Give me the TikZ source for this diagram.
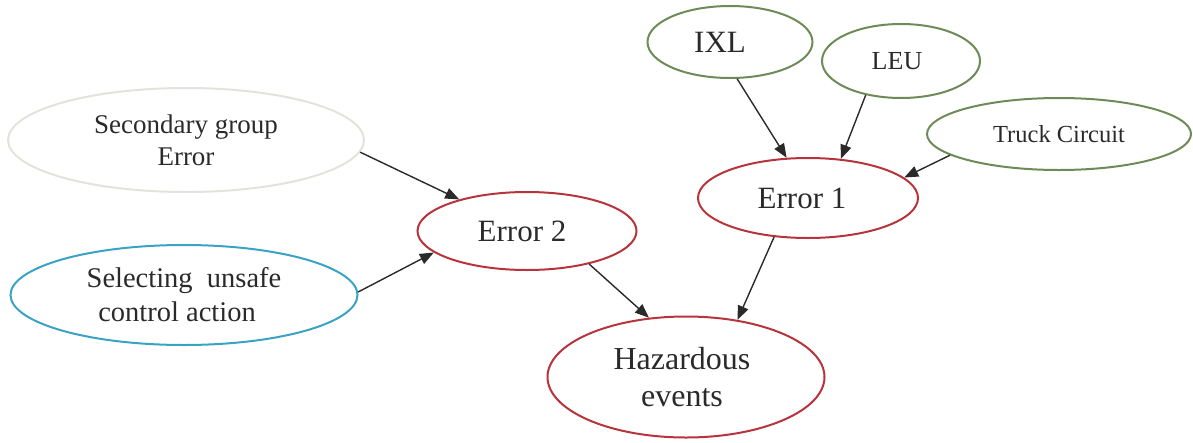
\documentclass[tikz,border=0pt]{standalone}
\usepackage{fontspec}
\setmainfont{Liberation Serif}
\usetikzlibrary{shapes.geometric,arrows.meta}

\definecolor{errred}{HTML}{B8343C}
\definecolor{srcgreen}{HTML}{6E8B57}
\definecolor{ctlblue}{HTML}{3AA3C4}
\definecolor{grpgray}{HTML}{E4E2DC}
\definecolor{inkgray}{HTML}{2A2A2A}

% move a label left inside its oval by #1 (the oval itself stays put)
\newcommand{\ovalnudge}[2]{\hspace*{-#1}#2}

\tikzset{
  oval/.style={ellipse, draw, line width=2pt, inner sep=0pt, align=center,
               text=inkgray},
  errnode/.style={oval, draw=errred},
  srcnode/.style={oval, draw=srcgreen},
  link/.style={line width=1.4pt, draw=inkgray,
               -{Triangle[length=14pt, width=11pt]}},
}

\begin{document}
\begin{tikzpicture}[x=1pt, y=-1pt]
  \useasboundingbox (0,0) rectangle (1193,442);

  % causes on the left
  \node[oval, draw=grpgray, minimum width=356pt, minimum height=104pt,
        font=\fontsize{27}{32}\selectfont] (grp) at (186,140)
        {Secondary group\\Error};
  \node[oval, draw=ctlblue, minimum width=347pt, minimum height=100pt,
        font=\fontsize{28.5}{34}\selectfont] (ctl) at (184,295)
        {Selecting\ \ unsafe\\\ovalnudge{14pt}{control action}};

  % technical sources on the top right
  \node[srcnode, minimum width=165pt, minimum height=72pt,
        font=\fontsize{31}{34}\selectfont] (ixl) at (730,42) {\ovalnudge{20pt}{IXL}};
  \node[srcnode, minimum width=158pt, minimum height=74pt,
        font=\fontsize{26}{30}\selectfont] (leu) at (901,61) {\ovalnudge{8pt}{LEU}};
  \node[srcnode, minimum width=264pt, minimum height=72pt,
        font=\fontsize{24.5}{28}\selectfont] (trk) at (1059,134) {Truck Circuit};

  % intermediate errors
  \node[errnode, minimum width=219pt, minimum height=78pt,
        font=\fontsize{31}{34}\selectfont] (e2) at (527,231) {\ovalnudge{10pt}{Error 2}};
  \node[errnode, minimum width=220pt, minimum height=80pt,
        font=\fontsize{31}{34}\selectfont] (e1) at (808,198) {\ovalnudge{12pt}{Error 1}};

  % top event
  \node[errnode, minimum width=277pt, minimum height=121pt,
        font=\fontsize{32}{37}\selectfont] (haz) at (686,377)
        {\ovalnudge{8pt}{Hazardous}\\\ovalnudge{8pt}{events}};

  % connectors
  \draw[link] (grp.-4)   -- (e2.155);
  \draw[link] (ctl.1)    -- (e2.193);
  \draw[link] (ixl.-79)  -- (e1.118);
  \draw[link] (leu.-136) -- (e1.50);
  \draw[link] (trk.191)  -- (e1.12);
  \draw[link] (e2.-28)   -- (haz.122);
  \draw[link] (e1.-131)  -- (haz.48);
\end{tikzpicture}
\end{document}
